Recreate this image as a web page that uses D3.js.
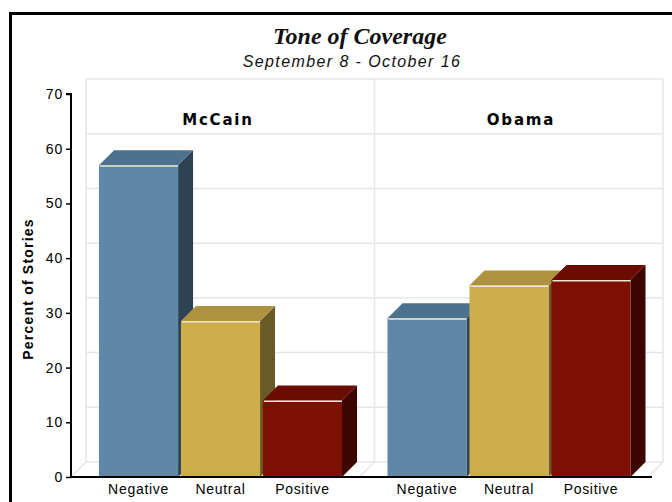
<!DOCTYPE html>
<html>
<head>
<meta charset="utf-8">
<script src="https://cdn.jsdelivr.net/npm/d3@7"></script>
<style>
  html, body { margin: 0; padding: 0; background: #fff; }
  svg { display: block; }
</style>
</head>
<body>
<svg id="chart" width="672" height="502"></svg>
<script>
// ---- data ----
const candidates = ["McCain", "Obama"];
const tones = ["Negative", "Neutral", "Positive"];
const mccainValues = [57, 28.5, 14];
const obamaValues = [29, 35, 36];
const yTicks = [0, 10, 20, 30, 40, 50, 60, 70];
const titleText = "Tone of Coverage";
const subtitleText = "September 8 - October 16";
const yAxisTitle = "Percent of Stories";

const seriesByCandidate = { McCain: mccainValues, Obama: obamaValues };

// ---- styling ----
const faceColors = {
  Negative: { front: "#5e87a8", top: "#4c7290", side: "#2d4354" },
  Neutral:  { front: "#cdad4c", top: "#ae9240", side: "#6a5a26" },
  Positive: { front: "#7e1003", top: "#6b0c00", side: "#3c0500" }
};
const DX = 15, DY = 15;

const svg = d3.select("#chart");

// frame
svg.append("rect").attr("x", 10.5).attr("y", 13.5).attr("width", 700).attr("height", 520)
  .attr("fill", "#fff").attr("stroke", "#000").attr("stroke-width", 3);

// titles
svg.append("text").attr("x", 360).attr("y", 44).attr("text-anchor", "middle")
  .attr("font-family", "Liberation Serif, Times New Roman, serif")
  .attr("font-style", "italic").attr("font-weight", "bold").attr("font-size", 24)
  .attr("fill", "#111").text(titleText);
svg.append("text").attr("x", 352).attr("y", 67).attr("text-anchor", "middle")
  .attr("font-family", "Liberation Sans, Arial, sans-serif")
  .attr("font-style", "italic").attr("font-size", 16).attr("letter-spacing", 1.4)
  .attr("fill", "#111").text(subtitleText);

// scales
const y = d3.scaleLinear().domain([0, 70]).range([477, 94]);
const xPanel = d3.scaleBand().domain(candidates).range([71, 648]);
const xInner = d3.scaleBand().domain(tones).range([28, 271]).paddingInner(0.035);

const backLeft = xPanel.range()[0] + DX;
const backRight = xPanel.range()[1] + DX;

// back wall gridlines
const grid = svg.append("g").attr("stroke", "#e6e6e6").attr("stroke-width", 1.5).attr("fill", "none");
yTicks.forEach(t => {
  grid.append("line").attr("x1", backLeft).attr("x2", backRight)
    .attr("y1", y(t) - DY).attr("y2", y(t) - DY);
});
// vertical back wall lines (left, panel divider, right)
const vlines = [xPanel.range()[0], ...candidates.slice(1).map(c => xPanel(c)), xPanel.range()[1]];
vlines.forEach(vx => {
  grid.append("line").attr("x1", vx + DX).attr("x2", vx + DX)
    .attr("y1", y(70) - DY).attr("y2", y(0) - DY);
  grid.append("line").attr("x1", vx).attr("x2", vx + DX)
    .attr("y1", y(0)).attr("y2", y(0) - DY);
});

// panel titles
const panelTitleX = { McCain: 218, Obama: 521 };
candidates.forEach(c => {
  svg.append("text").attr("x", panelTitleX[c]).attr("y", 125).attr("text-anchor", "middle")
    .attr("font-family", "DejaVu Sans, Verdana, sans-serif").attr("font-weight", "bold")
    .attr("font-size", 15).attr("letter-spacing", 1.8).attr("fill", "#000").text(c);
});

// bars
candidates.forEach(c => {
  const g = svg.append("g").attr("transform", `translate(${xPanel(c)},0)`);
  const vals = seriesByCandidate[c];
  tones.forEach((t, i) => {
    const v = vals[i];
    const x0 = xInner(t), w = xInner.bandwidth();
    const yt = y(v), yb = y(0);
    const col = faceColors[t];
    g.append("polygon")
      .attr("points", [[x0 + w, yt], [x0 + w + DX, yt - DY], [x0 + w + DX, yb - DY], [x0 + w, yb]].join(" "))
      .attr("fill", col.side);
    g.append("polygon")
      .attr("points", [[x0, yt], [x0 + DX, yt - DY], [x0 + w + DX, yt - DY], [x0 + w, yt]].join(" "))
      .attr("fill", col.top);
    g.append("rect").attr("x", x0).attr("y", yt).attr("width", w).attr("height", yb - yt)
      .attr("fill", col.front);
    g.append("line").attr("x1", x0 + 1).attr("x2", x0 + w).attr("y1", yt + 0.75).attr("y2", yt + 0.75)
      .attr("stroke", "#ece6d6").attr("stroke-width", 1.5);
    g.append("text").attr("x", x0 + w / 2).attr("y", 494).attr("text-anchor", "middle")
      .attr("font-family", "Liberation Sans, Arial, sans-serif").attr("font-size", 14)
      .attr("letter-spacing", 0.7).attr("fill", "#000").text(t);
  });
});

// y axis
const yAxis = d3.axisLeft(y).tickValues(yTicks).tickSize(5).tickPadding(3).tickFormat(d3.format("d"));
const ya = svg.append("g").attr("transform", "translate(71,0)").call(yAxis);
ya.select(".domain").attr("stroke", "#000").attr("stroke-width", 2).attr("d", `M-5,${y(70)}H0V${y(0) + 1}`);
ya.selectAll(".tick line").attr("stroke", "#000").attr("stroke-width", 1.5);
ya.selectAll(".tick text").attr("font-family", "Liberation Sans, Arial, sans-serif")
  .attr("font-size", 14).attr("letter-spacing", 0.8).attr("fill", "#000");

// x baseline
svg.append("line").attr("x1", 70).attr("x2", 652).attr("y1", y(0)).attr("y2", y(0))
  .attr("stroke", "#000").attr("stroke-width", 2);

// y axis title
svg.append("text").attr("transform", "translate(33,289) rotate(-90)").attr("text-anchor", "middle")
  .attr("font-family", "Liberation Sans, Arial, sans-serif").attr("font-weight", "bold")
  .attr("font-size", 14).attr("letter-spacing", 1.2).attr("fill", "#000").text(yAxisTitle);
</script>
</body>
</html>
